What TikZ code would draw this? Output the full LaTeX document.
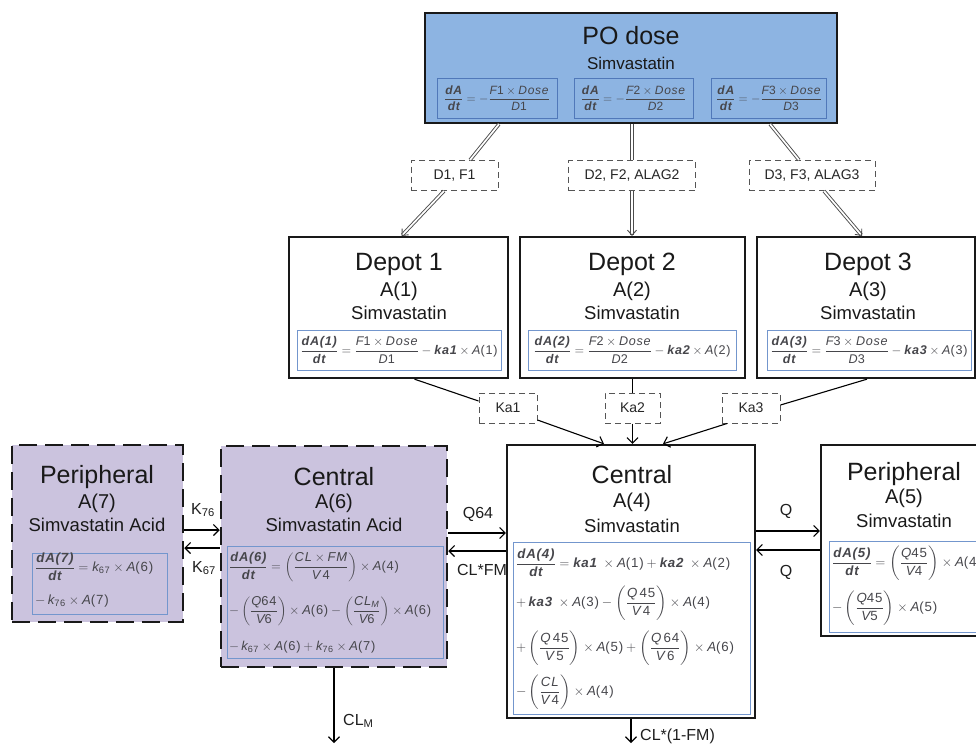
\documentclass[tikz,border=0pt]{standalone}
\usepackage{fix-cm}
\usepackage{amsmath}
\usepackage{fontspec}
\setmainfont{Liberation Sans}
\newfontfamily\eqfont[LetterSpace=6]{Liberation Sans}
\usetikzlibrary{arrows.meta,calc}
\definecolor{poblue}{RGB}{141,180,226}
\definecolor{poeqb}{RGB}{80,120,185}
\definecolor{eqblue}{RGB}{115,150,205}
\definecolor{lav}{RGB}{203,195,222}
\definecolor{eqgray}{RGB}{70,70,75}
\definecolor{dgray}{RGB}{85,85,85}
\newcommand\fttl{\fontsize{25}{28}\selectfont}
\newcommand\fsubt{\fontsize{20}{22}\selectfont}
\newcommand\fdrug{\fontsize{18.5}{21}\selectfont}
\newcommand\fpodrug{\fontsize{17}{19}\selectfont}
\newcommand\flab{\fontsize{16}{18}\selectfont}
\newcommand\fdl{\fontsize{14}{16}\selectfont}
\newcommand\feq{\fontsize{13.3}{15}\selectfont}
\newcommand\feqs{\fontsize{12.9}{14}\selectfont}
\newcommand\feqd{\fontsize{12.6}{14}\selectfont}
\newcommand\fpoeq{\fontsize{12}{13}\selectfont}
\newcommand\mi[1]{\text{\eqfont\itshape #1}}
\newcommand\mb[1]{\text{\eqfont\bfseries\itshape #1}}
\newcommand\mr[1]{\text{\eqfont #1}}
\begin{document}
\begin{tikzpicture}[x=1pt,y=-1pt,
  cbox/.style={draw=black!90, line width=2.3pt, fill=white, inner sep=0pt},
  abox/.style={draw=black!90, line width=2.5pt, dash pattern=on 18pt off 8pt, fill=lav, inner sep=0pt},
  eqb/.style={draw=eqblue, line width=1pt, inner sep=0pt},
  dlab/.style={draw=dgray, line width=1pt, dash pattern=on 6pt off 4pt, font=\fdl, inner sep=0pt, minimum height=30pt, text=black!85},
  arr/.style={line width=1.1pt, -{Straight Barb[length=5.5pt,width=11pt]}},
  dbl/.style={draw=black!70, double=white, double distance=1.7pt, line width=0.9pt},
  dbla/.style={dbl, -{Straight Barb[length=5pt,width=9pt]}},
  txt/.style={inner sep=0pt, text=black!90},
  eq/.style={inner sep=0pt, anchor=west, text=eqgray, font=\feq},
  lbl/.style={inner sep=0pt, text=black!88, font=\flab},
]
\fill[white] (0,0) rectangle (976,745);
\useasboundingbox (0,0) rectangle (976,745);

% ---------- PO dose ----------
\node[cbox, fill=poblue, minimum width=412pt, minimum height=110pt] (po) at (631,68) {};
\node[txt, font=\fttl] (potl) at (631,36) {PO dose};
\node[txt, font=\fpodrug] (podrug) at (631,63) {Simvastatin};
\node[eqb, draw=poeqb, fill=poblue, minimum width=120pt, minimum height=40pt, text=eqgray, font=\fpoeq] (poe1) at (497,98)
  {$\displaystyle\frac{\mb{dA}}{\mb{dt}} = -\frac{\mi{F}\mr{1}\times\mi{Dose}}{\mi{D}\mr{1}}$};
\node[eqb, draw=poeqb, fill=poblue, minimum width=119pt, minimum height=40pt, text=eqgray, font=\fpoeq] (poe2) at (633.5,98)
  {$\displaystyle\frac{\mb{dA}}{\mb{dt}} = -\frac{\mi{F}\mr{2}\times\mi{Dose}}{\mi{D}\mr{2}}$};
\node[eqb, draw=poeqb, fill=poblue, minimum width=115pt, minimum height=40pt, text=eqgray, font=\fpoeq] (poe3) at (769,98)
  {$\displaystyle\frac{\mb{dA}}{\mb{dt}} = -\frac{\mi{F}\mr{3}\times\mi{Dose}}{\mi{D}\mr{3}}$};

% ---------- dose labels ----------
\node[dlab, minimum width=87pt] (dl1) at (454.5,175.5) {D1, F1};
\node[dlab, minimum width=127pt] (dl2) at (632,175.5) {D2, F2, ALAG2};
\node[dlab, minimum width=126pt] (dl3) at (812,175.5) {D3, F3, ALAG3};

% ---------- Depots ----------
\node[cbox, minimum width=219pt, minimum height=141pt] (d1) at (398.5,307.5) {};
\node[cbox, minimum width=225pt, minimum height=141pt] (d2) at (632.5,307.5) {};
\node[cbox, minimum width=218pt, minimum height=141pt] (d3) at (866,307.5) {};
\node[txt, font=\fttl] (d1t) at (399,264) {Depot 1};
\node[txt, font=\fsubt] (d1a) at (399,291) {A(1)};
\node[txt, font=\fdrug] (d1s) at (399,313) {Simvastatin};
\node[txt, font=\fttl] (d2t) at (632,264) {Depot 2};
\node[txt, font=\fsubt] (d2a) at (632,291) {A(2)};
\node[txt, font=\fdrug] (d2s) at (632,313) {Simvastatin};
\node[txt, font=\fttl] (d3t) at (868,264) {Depot 3};
\node[txt, font=\fsubt] (d3a) at (868,291) {A(3)};
\node[txt, font=\fdrug] (d3s) at (868,313) {Simvastatin};
\node[eqb, minimum width=204pt, minimum height=40pt, text=eqgray, font=\feqd] (d1e) at (399,350)
  {$\displaystyle\frac{\mb{dA(1)}}{\mb{dt}} = \frac{\mi{F}\mr{1}\times\mi{Dose}}{\mi{D}\mr{1}} - \mb{ka1}\times\mi{A}\mr{(1)}$};
\node[eqb, minimum width=208pt, minimum height=40pt, text=eqgray, font=\feqd] (d2e) at (632,350)
  {$\displaystyle\frac{\mb{dA(2)}}{\mb{dt}} = \frac{\mi{F}\mr{2}\times\mi{Dose}}{\mi{D}\mr{2}} - \mb{ka2}\times\mi{A}\mr{(2)}$};
\node[eqb, minimum width=204pt, minimum height=40pt, text=eqgray, font=\feqd] (d3e) at (869,350)
  {$\displaystyle\frac{\mb{dA(3)}}{\mb{dt}} = \frac{\mi{F}\mr{3}\times\mi{Dose}}{\mi{D}\mr{3}} - \mb{ka3}\times\mi{A}\mr{(3)}$};

% ---------- Ka labels ----------
\node[dlab, minimum width=58pt] (ka1) at (508,408) {Ka1};
\node[dlab, minimum width=55pt] (ka2) at (632.5,408) {Ka2};
\node[dlab, minimum width=58pt] (ka3) at (751,408) {Ka3};

% ---------- Central A(4) ----------
\node[cbox, minimum width=248pt, minimum height=273pt] (a4) at (631,581.5) {};
\node[txt, font=\fttl] (a4t) at (632,475) {Central};
\node[txt, font=\fsubt] (a4a) at (632,502) {A(4)};
\node[txt, font=\fdrug] (a4s) at (632,526) {Simvastatin};
\node[eqb, minimum width=237pt, minimum height=172pt] (a4e) at (631.5,628) {};
\node[eq] (a4l1) at (516,563) {$\displaystyle\frac{\mb{dA(4)}}{\mb{dt}} = \mb{ka1}\;\times\mi{A}\mr{(1)} + \mb{ka2}\;\times\mi{A}\mr{(2)}$};
\node[eq] (a4l2) at (516,603) {$\displaystyle +\,\mb{ka3}\;\times\mi{A}\mr{(3)} - \left(\frac{\mi{Q}\,\mr{45}}{\mi{V}\,\mr{4}}\right)\times\mi{A}\mr{(4)}$};
\node[eq] (a4l3) at (516,648) {$\displaystyle +\left(\frac{\mi{Q}\,\mr{45}}{\mi{V}\,\mr{5}}\right)\times\mi{A}\mr{(5)} + \left(\frac{\mi{Q}\,\mr{64}}{\mi{V}\,\mr{6}}\right)\times\mi{A}\mr{(6)}$};
\node[eq] (a4l4) at (516,692) {$\displaystyle -\left(\frac{\mi{CL}}{\mi{V}\,\mr{4}}\right)\times\mi{A}\mr{(4)}$};

% ---------- Peripheral A(5) ----------
\node[cbox, minimum width=168pt, minimum height=191pt] (a5) at (905,540.5) {};
\node[txt, font=\fttl] (a5t) at (904,474) {Peripheral};
\node[txt, font=\fsubt] (a5a) at (904,498) {A(5)};
\node[txt, font=\fdrug] (a5s) at (904,521) {Simvastatin};
\node[eqb, minimum width=153pt, minimum height=91pt] (a5e) at (905.5,586.5) {};
\node[eq] (a5l1) at (832,563) {$\displaystyle\frac{\mb{dA(5)}}{\mb{dt}} = \left(\frac{\mi{Q}\mr{45}}{\mi{V}\mr{4}}\right)\times\mi{A}\mr{(4)}$};
\node[eq] (a5l2) at (832,608) {$\displaystyle -\left(\frac{\mi{Q}\mr{45}}{\mi{V}\mr{5}}\right)\times\mi{A}\mr{(5)}$};

% ---------- Central A(6) ----------
\node[abox, minimum width=226pt, minimum height=221pt] (a6) at (334,556.5) {};
\node[txt, font=\fttl] (a6t) at (334,477) {Central};
\node[txt, font=\fsubt] (a6a) at (334,503) {A(6)};
\node[txt, font=\fdrug] (a6s) at (334,525) {Simvastatin Acid};
\node[eqb, minimum width=216pt, minimum height=112pt] (a6e) at (335,602) {};
\node[eq, font=\feqs] (a6l1) at (229,567) {$\displaystyle\frac{\mb{dA(6)}}{\mb{dt}} = \left(\frac{\mi{CL}\times\mi{FM}}{\mi{V}\,\mr{4}}\right)\times\mi{A}\mr{(4)}$};
\node[eq, font=\feqs] (a6l2) at (229,611) {$\displaystyle -\left(\frac{\mi{Q}\mr{64}}{\mi{V}\mr{6}}\right)\times\mi{A}\mr{(6)} - \left(\frac{\mi{CL}_{\mi{M}}}{\mi{V}\mr{6}}\right)\times\mi{A}\mr{(6)}$};
\node[eq, font=\feqs] (a6l3) at (229,647) {$-\,\mi{k}_{\mr{67}}\times\mi{A}\mr{(6)} + \mi{k}_{\mr{76}}\times\mi{A}\mr{(7)}$};

% ---------- Peripheral A(7) ----------
\node[abox, minimum width=171pt, minimum height=177pt] (a7) at (97.5,533.5) {};
\node[txt, font=\fttl] (a7t) at (97,477) {Peripheral};
\node[txt, font=\fsubt] (a7a) at (97,503) {A(7)};
\node[txt, font=\fdrug] (a7s) at (97,525) {Simvastatin Acid};
\node[eqb, minimum width=135pt, minimum height=61pt] (a7e) at (99.5,583.5) {};
\node[eq] (a7l1) at (35,567) {$\displaystyle\frac{\mb{dA(7)}}{\mb{dt}} = \mi{k}_{\mr{67}}\times\mi{A}\mr{(6)}$};
\node[eq] (a7l2) at (35,601) {$-\,\mi{k}_{\mr{76}}\times\mi{A}\mr{(7)}$};

% ---------- dose connectors ----------
\draw[dbl] ([xshift=-132pt]po.south) -- ([xshift=15.5pt]dl1.north);
\draw[dbla] ([xshift=-10.5pt]dl1.south) -- ([xshift=3pt]d1.north);
\draw[dbl] (po.south -| dl2.north) -- (dl2.north);
\draw[dbla] (dl2.south) -- (dl2.south |- d2.north);
\draw[dbl] ([xshift=139pt]po.south) -- ([xshift=-13pt]dl3.north);
\draw[dbla] ([xshift=12pt]dl3.south) -- ([xshift=-4pt]d3.north);

% ---------- absorption connectors ----------
\draw[line width=1.1pt] ([xshift=16pt]d1.south) -- ([yshift=7pt]ka1.west);
\draw[arr] ([yshift=-12pt]ka1.east) -- ([xshift=-27pt]a4.north);
\draw[line width=1.1pt] (d2.south -| ka2.north) -- (ka2.north);
\draw[arr] (ka2.south) -- (ka2.south |- a4.north);
\draw[line width=1.1pt] ([xshift=1pt]d3.south) -- ([yshift=3pt]ka3.east);
\draw[arr] ([xshift=-24pt]ka3.south) -- ([xshift=32pt]a4.north);

% ---------- exchange arrows ----------
\draw[arr] ([yshift=3.5pt]a7.east) -- ([yshift=3.5pt]a7.east -| a6.west);
\draw[arr] ([yshift=-14.5pt]a7.east -| a6.west) -- ([yshift=-14.5pt]a7.east);
\draw[arr] ([yshift=23.5pt]a6.east) -- ([yshift=23.5pt]a6.east -| a4.west);
\draw[arr] ([yshift=5.5pt]a6.east -| a4.west) -- ([yshift=5.5pt]a6.east);
\draw[arr] ([yshift=50.5pt]a4.east) -- ([yshift=50.5pt]a4.east -| a5.west);
\draw[arr] ([yshift=31.5pt]a4.east -| a5.west) -- ([yshift=31.5pt]a4.east);

\node[lbl] (k76) at (203,510) {K\textsubscript{76}};
\node[lbl] (k67) at (204,568) {K\textsubscript{67}};
\node[lbl] (q64) at (478,514) {Q64};
\node[lbl] (clfm) at (482,570) {CL*FM};
\node[lbl] (q1) at (786,511) {Q};
\node[lbl] (q2) at (786,572) {Q};

% ---------- elimination ----------
\coordinate (clmend) at (334,743);
\coordinate (clend) at (631,743);
\draw[arr] (a6.south) -- (clmend);
\draw[arr] (a4.south) -- (clend);
\node[lbl, anchor=west] (clm) at (343,721) {CL\textsubscript{M}};
\node[lbl, anchor=west] (cl1fm) at (640,736) {CL*(1-FM)};
\end{tikzpicture}
\end{document}
